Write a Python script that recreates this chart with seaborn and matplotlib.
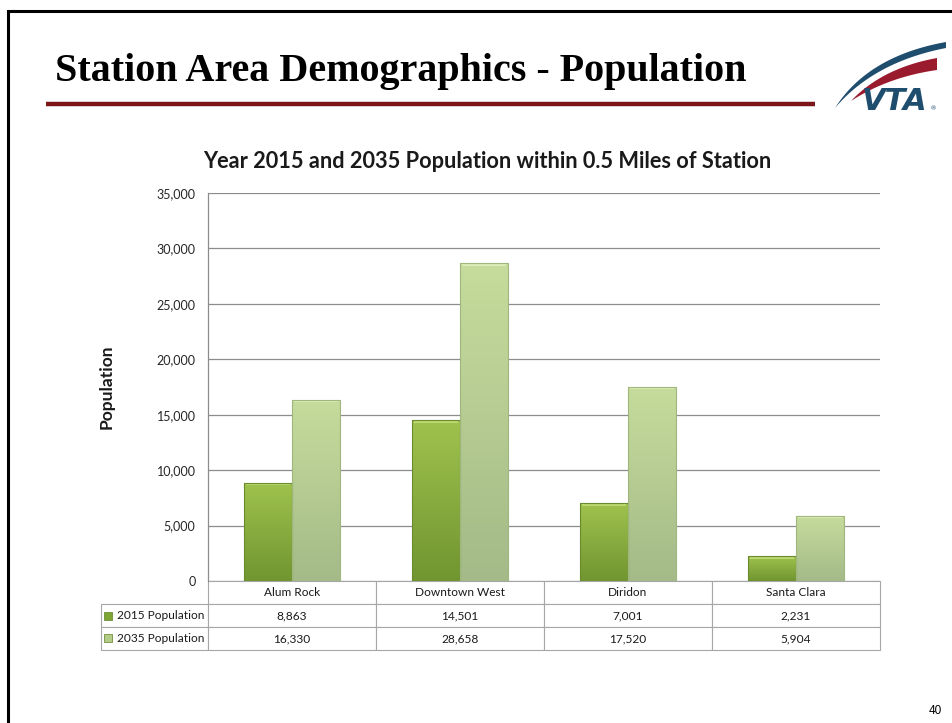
import numpy as np
import pandas as pd
import matplotlib
matplotlib.use("Agg")
import matplotlib.pyplot as plt
import seaborn as sns
from matplotlib.patches import Polygon, Rectangle
from matplotlib.colors import LinearSegmentedColormap

# ---- data ----
stations = ["Alum Rock", "Downtown West", "Diridon", "Santa Clara"]
series = ["2015 Population", "2035 Population"]
pop_2015 = [8863, 14501, 7001, 2231]
pop_2035 = [16330, 28658, 17520, 5904]
y_ticks = [0, 5000, 10000, 15000, 20000, 25000, 30000, 35000]

df = pd.DataFrame({
    "Station": stations * 2,
    "Series": [series[0]] * len(stations) + [series[1]] * len(stations),
    "Population": pop_2015 + pop_2035,
})

sns.set_theme(style="white")
plt.rcParams["font.family"] = ["Lato", "DejaVu Sans"]

W, H = 953, 723
fig = plt.figure(figsize=(W / 100, H / 100), dpi=100)
fig.patch.set_facecolor("white")

# chart axes (pixel layout converted to figure fractions)
ax = fig.add_axes([208 / W, 1 - 581 / H, 672 / W, 388 / H])

sns.barplot(data=df, x="Station", y="Population", hue="Series",
            order=stations, hue_order=series,
            palette=["#8db33f", "#b9d38a"], saturation=1,
            width=0.57, errorbar=None, legend=False, ax=ax)

# vertical gradient fill for each bar, with a light bevel along the top
grad_colors = [("#9fc24e", "#719530"), ("#c6dc9c", "#a4ba88")]
edge_colors = ["#6a8b2d", "#9fb67c"]
bevel_colors = ["#c4de7a", "#e2f0bf"]
grad = np.linspace(0, 1, 256).reshape(-1, 1)
bevel = 220  # bevel thickness in data units (~2.5 px)
for i, cont in enumerate(ax.containers):
    top, bot = grad_colors[i]
    cmap = LinearSegmentedColormap.from_list(f"bar{i}", [bot, top])
    for bar in cont:
        x0, y0 = bar.get_x(), bar.get_y()
        w, h = bar.get_width(), bar.get_height()
        im = ax.imshow(grad, cmap=cmap, origin="lower", aspect="auto",
                       extent=[x0, x0 + w, y0, y0 + h], zorder=2)
        im.set_clip_path(bar)
        ax.add_patch(Rectangle((x0 + 0.01, y0 + h - bevel), w - 0.02, bevel,
                               facecolor=bevel_colors[i], edgecolor="none",
                               alpha=0.8, zorder=2.5))
        bar.set_facecolor("none")
        bar.set_edgecolor(edge_colors[i])
        bar.set_linewidth(0.8)
        bar.set_zorder(3)

ax.set_xlim(-0.5, len(stations) - 0.5)
ax.set_ylim(0, 35000)
ax.set_yticks(y_ticks)
ax.set_yticklabels([f"{v:,}" for v in y_ticks], fontsize=9, color="#262626")
ax.tick_params(axis="y", length=0, pad=9)
ax.set_xticks([])
ax.set_xlabel("")
ax.set_ylabel("")
ax.set_axisbelow(True)
ax.yaxis.grid(True, color="#8c8c8c", linewidth=0.9)
for side in ["top", "right", "bottom"]:
    ax.spines[side].set_visible(False)
ax.spines["left"].set_color("#8c8c8c")
ax.spines["left"].set_linewidth(0.9)

# data table below the plot
cell_text = [[""] + stations,
             [series[0]] + [f"{v:,}" for v in pop_2015],
             [series[1]] + [f"{v:,}" for v in pop_2035]]
tot = 107 + 672
tbl = ax.table(cellText=cell_text,
               colWidths=[107 / tot] + [168 / tot] * len(stations),
               cellLoc="center",
               bbox=[-107 / 672, -69 / 388, tot / 672, 69 / 388])
tbl.auto_set_font_size(False)
tbl.set_fontsize(8.6)
for (r, c), cell in tbl.get_celld().items():
    cell.set_edgecolor("#a6a6a6")
    cell.set_linewidth(0.8)
    cell.get_text().set_color("#1a1a1a")
    if c == 0:
        cell.get_text().set_ha("left")
        cell.PAD = 0.15
    if r == 0 and c == 0:
        cell.visible_edges = ""

# legend keys inside the row-label cells
key_colors = ["#7ea634", "#b3cc86"]
for i, kc in enumerate(key_colors):
    yc = 616 + 22 * i
    ax.add_patch(Rectangle(((104 - 208) / 672, (581 - yc - 4) / 388),
                           8 / 672, 8 / 388, transform=ax.transAxes,
                           facecolor=kc, edgecolor="#5f7f25", linewidth=0.5,
                           clip_on=False, zorder=5))

# chart title and axis label
fig.text(487 / W, 1 - 162 / H, "Year 2015 and 2035 Population within 0.5 Miles of Station",
         ha="center", va="center", fontsize=15.7, fontweight="bold", color="#1a1a1a")
fig.text(107 / W, 1 - 387 / H, "Population", rotation=90, ha="center", va="center",
         fontsize=12.5, fontweight="bold", color="#1a1a1a")

# slide decorations drawn in pixel space
deco = fig.add_axes([0, 0, 1, 1], zorder=-1)
deco.set_xlim(0, W)
deco.set_ylim(H, 0)
deco.axis("off")
deco.patch.set_alpha(0)

deco.plot([8, 8, W + 10], [H + 10, 11, 11], color="black", lw=2.2,
          solid_joinstyle="miter")
deco.plot([46, 815], [104, 104], color="#7a1518", lw=3.2, solid_capstyle="butt")

deco.text(55, 81, "Station Area Demographics - Population", fontsize=28.9,
          fontweight="bold", family=["Liberation Serif", "DejaVu Serif"],
          color="black", ha="left", va="baseline")


def bez(p0, p1, p2, n=50):
    t = np.linspace(0, 1, n)[:, None]
    p0, p1, p2 = map(np.asarray, (p0, p1, p2))
    return (1 - t) ** 2 * p0 + 2 * (1 - t) * t * p1 + t ** 2 * p2


blue_top = bez((835, 108), (868, 56), (946, 42))
blue_bot = bez((946, 48), (874, 62), (835, 108))
deco.add_patch(Polygon(np.vstack([blue_top, blue_bot]), closed=True,
                       facecolor="#1f4d6e", edgecolor="none"))
red_top = bez((851, 101), (882, 68), (937, 58))
red_bot = bez((937, 70), (888, 77), (851, 101))
deco.add_patch(Polygon(np.vstack([red_top, red_bot]), closed=True,
                       facecolor="#9b1b2e", edgecolor="none"))
deco.text(862, 110, "VTA", fontsize=22, fontweight="heavy", style="italic",
          family=["DejaVu Sans"], color="#1f4d6e", ha="left", va="baseline")
deco.text(931, 110, "®", fontsize=4.5, color="#1f4d6e", ha="left", va="baseline")

fig.text(935 / W, 1 - 711 / H, "40", ha="center", va="center", fontsize=8.5,
         family=["Liberation Sans", "DejaVu Sans"], color="black")

fig.savefig("out.png", dpi=100, facecolor="white")
